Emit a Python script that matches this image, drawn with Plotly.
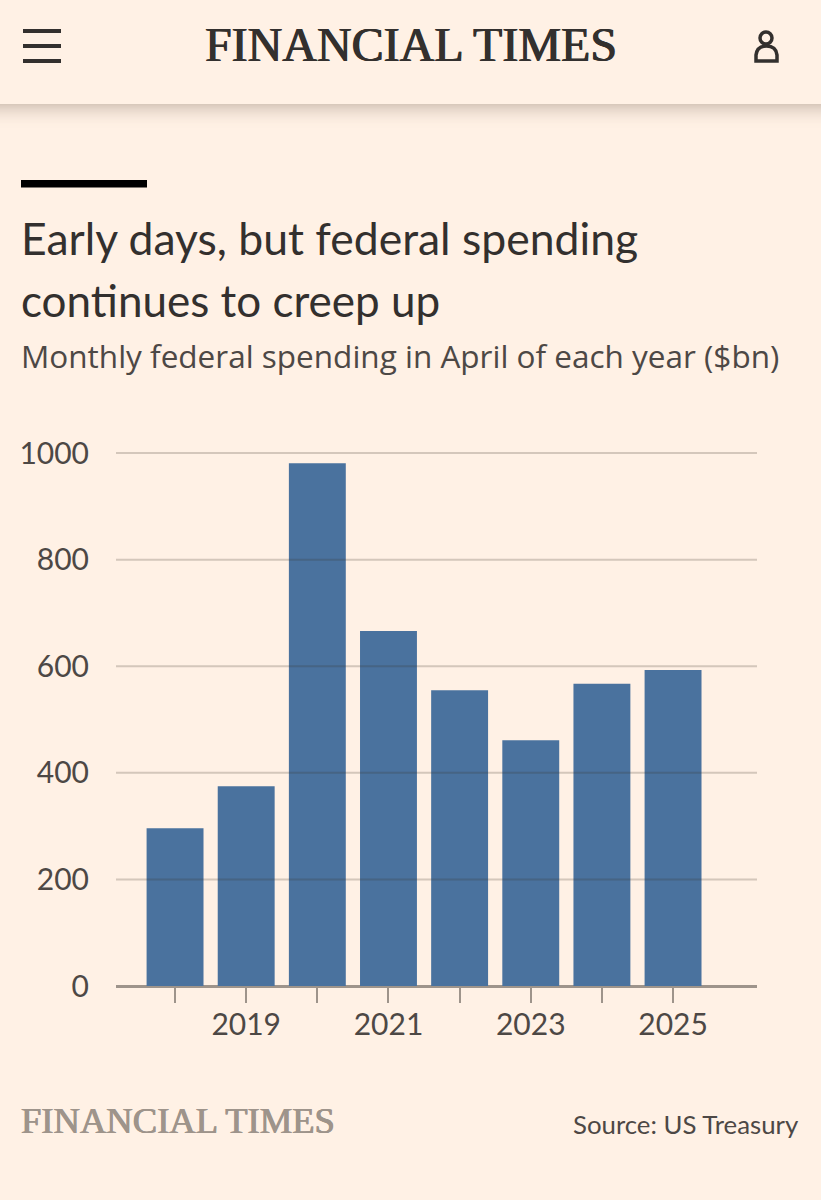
import plotly.graph_objects as go

W, H = 821, 1200
BG = '#fff1e5'
INK = '#33302e'

years = [2018, 2019, 2020, 2021, 2022, 2023, 2024, 2025]
spending = [296, 375, 981, 666, 555, 461, 567, 593]
tick_labels = ['', '2019', '', '2021', '', '2023', '', '2025']
y_ticks = [200, 400, 600, 800, 1000]

def px(x):
    return x / W

def py(y):
    return 1 - y / H

def rect(x0, y0, x1, y1, color, opacity=1):
    return dict(type='rect', xref='paper', yref='paper', x0=px(x0), x1=px(x1), y0=py(y0), y1=py(y1),
                fillcolor=color, opacity=opacity, line_width=0, layer='below')

def label(x, y, text, size, color=INK, font='Lato', anchor='left', shadow=None):
    f = dict(family=font, size=size, color=color)
    if shadow:
        f['shadow'] = shadow
    return dict(xref='paper', yref='paper', x=px(x), y=py(y), text=text, showarrow=False,
                xanchor=anchor, yanchor='middle', font=f, borderpad=0, borderwidth=0)

fig = go.Figure()
fig.add_trace(go.Bar(x=years, y=spending, width=0.8, marker=dict(color='#4a729e', line_width=0)))

shapes = []
# header shadow
for i in range(26):
    shapes.append(rect(0, 104 + i, W, 105 + i, '#5e4a3a', 0.24 * (1 - i / 26) ** 2.2))
# hamburger
for y in (31, 46, 61):
    shapes.append(dict(type='line', xref='paper', yref='paper', x0=px(23), x1=px(61), y0=py(y), y1=py(y),
                       line=dict(color=INK, width=4)))
# person icon
shapes.append(dict(type='circle', xref='paper', yref='paper', x0=px(760), x1=px(772), y0=py(44), y1=py(32),
                   line=dict(color=INK, width=3.5)))
shapes.append(dict(type='path', xref='paper', yref='paper', line=dict(color=INK, width=3.5),
                   path=f'M {px(756)} {py(61)} L {px(777)} {py(61)} L {px(777)} {py(55)} '
                        f'Q {px(776)} {py(46)} {px(766.5)} {py(46)} Q {px(757)} {py(46)} {px(756)} {py(55)} Z'))
# black rule above the title
shapes.append(rect(21, 180, 147, 187.5, '#000000'))
# gridlines sit on top of the bars, translucent
for v in y_ticks:
    shapes.append(dict(type='line', xref='paper', yref='y', x0=px(116), x1=px(757), y0=v, y1=v,
                       line=dict(color='rgba(60,50,40,0.22)', width=2), layer='above'))

annotations = [
    label(411, 45, 'FINANCIAL TIMES', 48, font='Liberation Serif', anchor='center',
          shadow='0.6px 0 0 #33302e, -0.6px 0 0 #33302e'),
    label(21, 237, 'Early days, but federal spending', 44.5),
    label(21, 300, 'continues to creep up', 44),
    label(21, 355, 'Monthly federal spending in April of each year ($bn)', 31.5, color='#4d4845', font='Open Sans'),
    label(21, 1120, 'FINANCIAL TIMES', 36.6, color='#9e948b', font='Liberation Serif',
          shadow='0.5px 0 0 #9e948b, -0.5px 0 0 #9e948b'),
    label(799, 1124, 'Source: US Treasury', 25.8, color='#4d4845', anchor='right'),
]

fig.update_layout(
    width=W, height=H, margin=dict(l=0, r=0, t=0, b=0, pad=0, autoexpand=False),
    paper_bgcolor=BG, plot_bgcolor=BG, showlegend=False,
    font=dict(family='Lato', color='#4d4845', size=30),
    shapes=shapes, annotations=annotations,
    bargap=0.2,
)
fig.update_xaxes(domain=[px(116), px(757)], range=[2017.17, 2026.18], tickmode='array',
                 tickvals=years, ticktext=tick_labels, ticks='outside', ticklen=16, tickwidth=1.5,
                 tickcolor='#9e948b', showgrid=False, showline=False, zeroline=False,
                 ticklabelstandoff=-4, tickfont=dict(size=30, color='#4d4845'))
fig.update_yaxes(domain=[py(986), py(452)], range=[0, 1002], tickmode='array', tickvals=[0] + y_ticks,
                 showgrid=False, showline=False, zeroline=True,
                 zerolinecolor='#9e948b', zerolinewidth=2.5, ticks='', ticklabelstandoff=26,
                 tickfont=dict(size=30, color='#4d4845'))

fig.write_html("out.html", config={'displayModeBar': False},
               post_script="document.body.style.margin='0';document.documentElement.style.overflow='hidden';")
